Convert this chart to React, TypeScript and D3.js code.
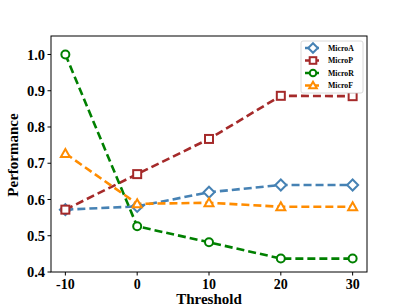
import React from 'react'
import * as d3 from 'd3'

const thresholds = [-10, 0, 10, 20, 30]
const microA = [0.572, 0.581, 0.62, 0.64, 0.64]
const microP = [0.572, 0.67, 0.767, 0.886, 0.885]
const microR = [1.0, 0.526, 0.482, 0.437, 0.437]
const microF = [0.727, 0.588, 0.591, 0.58, 0.58]
const yTicks = [0.4, 0.5, 0.6, 0.7, 0.8, 0.9, 1.0]

const series = [
  { name: 'MicroA', values: microA, color: '#4682b4', marker: 'diamond' },
  { name: 'MicroP', values: microP, color: '#a52a2a', marker: 'square' },
  { name: 'MicroR', values: microR, color: '#008000', marker: 'circle' },
  { name: 'MicroF', values: microF, color: '#ff8c00', marker: 'triangle' },
]

const margin = { top: 36, right: 40, bottom: 33, left: 51 }
const W = 407
const H = 305
const width = W - margin.left - margin.right
const height = H - margin.top - margin.bottom
const font = '"Liberation Serif", "Times New Roman", serif'

const Marker = ({ type, x, y, color, s = 4.5 }: any) => {
  const common = { fill: 'white', stroke: color, strokeWidth: 2 }
  if (type === 'diamond')
    return <path d={`M${x},${y - s - 1}L${x + s + 1},${y}L${x},${y + s + 1}L${x - s - 1},${y}Z`} {...common} />
  if (type === 'square') return <rect x={x - s + 0.5} y={y - s + 0.5} width={2 * s - 1} height={2 * s - 1} {...common} />
  if (type === 'circle') return <circle cx={x} cy={y} r={s - 0.5} {...common} />
  return <path d={`M${x},${y - s}L${x + s},${y + s - 1}L${x - s},${y + s - 1}Z`} {...common} />
}

export default function App() {
  const x = d3.scaleLinear().domain([-12, 32]).range([0, width])
  const y = d3.scaleLinear().domain([0.4, 1.051]).range([height, 0])
  const line = d3.line<number>().x((_, i) => x(thresholds[i])).y((d) => y(d))

  return (
    <svg width={W} height={H} style={{ position: 'absolute', left: 0, top: 0 }} fontFamily={font}>
      <rect width={W} height={H} fill="white" />
      <g transform={`translate(${margin.left},${margin.top})`}>
        {series.map((s) => (
          <path key={s.name} d={line(s.values) || ''} fill="none" stroke={s.color} strokeWidth={2.6} strokeDasharray="8,4" />
        ))}
        {series.map((s) =>
          s.values.map((v, i) => (
            <Marker key={s.name + i} type={s.marker} x={x(thresholds[i])} y={y(v)} color={s.color} />
          ))
        )}
        <rect x={0} y={0} width={width} height={height} fill="none" stroke="black" strokeWidth={1} />
        {yTicks.map((t) => (
          <g key={t} transform={`translate(0,${y(t)})`}>
            <line x1={-3.5} x2={0} stroke="black" />
            <text x={-6} dy="0.35em" textAnchor="end" fontSize={14.5} fontWeight="bold">{t.toFixed(1)}</text>
          </g>
        ))}
        {thresholds.map((t) => (
          <g key={t} transform={`translate(${x(t)},${height})`}>
            <line y1={0} y2={3.5} stroke="black" />
            <text y={17} textAnchor="middle" fontSize={14} fontWeight="bold">{t}</text>
          </g>
        ))}
        <text x={width / 2} y={height + 31.5} textAnchor="middle" fontSize={15} fontWeight="bold">Threshold</text>
        <text transform={`translate(${-33.5},${height / 2 + 1}) rotate(-90)`} textAnchor="middle" fontSize={15} fontWeight="bold">Performance</text>
        <g transform={`translate(${width - 66},5)`}>
          <rect x={0} y={0} width={62} height={52} rx={2} fill="white" stroke="#d0d0d0" strokeWidth={0.8} />
          {series.map((s, i) => (
            <g key={s.name} transform={`translate(0,${7 + i * 12.5})`}>
              <line x1={4} x2={20} stroke={s.color} strokeWidth={2.6} strokeDasharray="6,2" />
              <Marker type={s.marker} x={12} y={0} color={s.color} s={3.8} />
              <text x={27} dy="0.35em" fontSize={7.8} fontWeight="bold">{s.name}</text>
            </g>
          ))}
        </g>
      </g>
    </svg>
  )
}
